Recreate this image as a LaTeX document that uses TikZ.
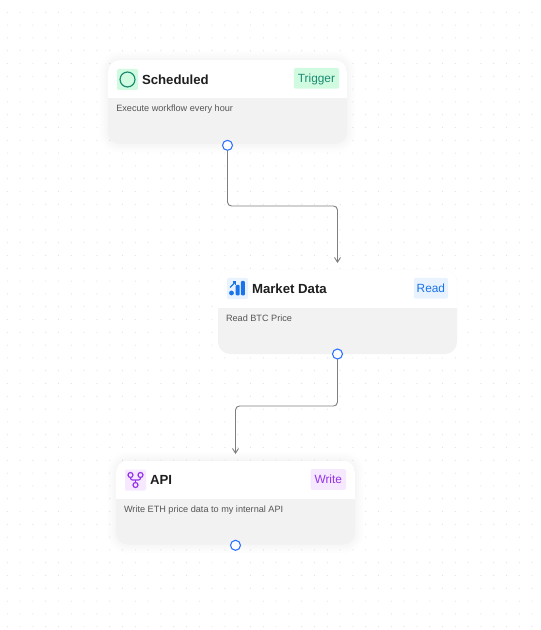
\documentclass[tikz,border=0pt]{standalone}
\usepackage{fontspec}
\setmainfont{Liberation Sans}
\usepackage{tikz}
\usetikzlibrary{arrows.meta,positioning}
\definecolor{cardgray}{HTML}{F2F2F2}
\definecolor{inkdark}{HTML}{1F1F1F}
\definecolor{inksoft}{HTML}{555555}
\definecolor{dotgray}{HTML}{E0E0E0}
\definecolor{wiregray}{HTML}{7F7F7F}
\definecolor{portblue}{HTML}{2970FF}
\definecolor{trigfill}{HTML}{D1FBE0}
\definecolor{triginkc}{HTML}{1A8A72}
\definecolor{readfill}{HTML}{E8F3FF}
\definecolor{readink}{HTML}{1A73E8}
\definecolor{writefill}{HTML}{F6E8FF}
\definecolor{writeink}{HTML}{9333EA}

\begin{document}
\begin{tikzpicture}[
	x=0.75pt,y=-0.75pt,
	card/.style={fill=cardgray,rounded corners=9pt,minimum width=179.25pt,minimum height=63pt,inner sep=0pt,outer sep=0pt,
		path picture={\fill[white,sharp corners] (path picture bounding box.north west) rectangle ([yshift=-28.5pt]path picture bounding box.north east);}},
	lifted/.style={preaction={draw=black,draw opacity=.006,line width=13pt},preaction={draw=black,draw opacity=.007,line width=9pt},preaction={draw=black,draw opacity=.007,line width=6pt},preaction={draw=black,draw opacity=.007,line width=3pt}},
	iconbox/.style={minimum size=15.75pt,inner sep=0pt,outer sep=0pt,rounded corners=1pt},
	tagbox/.style={minimum height=15.5pt,inner xsep=3pt,inner ysep=0pt,outer sep=0pt,rounded corners=1.5pt,text height=6.5pt,text depth=.3pt,font=\fontsize{8.9pt}{10pt}\selectfont},
	title/.style={inner sep=0pt,outer sep=0pt,text=inkdark,font=\fontsize{9.9pt}{12pt}\selectfont\bfseries},
	desc/.style={inner sep=0pt,outer sep=0pt,text=inksoft,text height=5.5pt,text depth=1.5pt,font=\fontsize{6.85pt}{8pt}\selectfont},
	port/.style={circle,draw=portblue,line width=.8pt,fill=white,minimum size=7.5pt,inner sep=0pt,outer sep=0pt},
	wire/.style={-{Straight Barb[length=3.5pt,width=4.5pt]},wiregray,line width=.7pt,rounded corners=3pt}
	]
	\useasboundingbox (0,0) rectangle (541,630);
	% dot grid
	\foreach \i in {0,...,41}
		\foreach \j in {0,...,49}
			\fill[dotgray] ({7.3+12.8*\i},{-0.5+12.8*\j}) circle (0.45pt);

	% cards
	\node[card,lifted] (sched) at (227.5,102) {};
	\node[card] (market) at (337.5,312) {};
	\node[card,lifted] (api) at (235.5,502.5) {};

	\node[iconbox,fill=trigfill] (schedIcon) [below right=6.75pt and 6.75pt of sched.north west] {};
	\node[title] (schedTitle) [right=3pt of schedIcon] {Scheduled};
	\node[tagbox,fill=trigfill,text=triginkc] (schedTag) [below left=6pt and 6pt of sched.north east] {Trigger};
	\node[desc] (schedDesc) [below right=33.2pt and 6.2pt of sched.north west] {Execute workflow every hour};
	\draw[triginkc,line width=.9pt] (schedIcon) circle (5.6pt);

	\node[iconbox,fill=readfill] (marketIcon) [below right=6pt and 6.75pt of market.north west] {};
	\node[title] (marketTitle) [right=3pt of marketIcon] {Market Data};
	\node[tagbox,fill=readfill,text=readink,inner xsep=2.2pt] (marketTag) [below left=6pt and 6.75pt of market.north east] {Read};
	\node[desc] (marketDesc) [below right=33.2pt and 6pt of market.north west] {Read BTC Price};
	\begin{scope}[shift={(marketIcon.center)}]
		\fill[readink] (-6,4.5) circle (2.4);
		\fill[readink,rounded corners=.7pt] (-1.8,-3.5) rectangle (2.2,6.8);
		\fill[readink,rounded corners=.7pt] (3.4,-7.5) rectangle (7.4,6.8);
		\draw[-{Straight Barb[length=1.5pt,width=3pt]},readink,line width=.9pt] (-7.5,-1) -- (-1.5,-7);
	\end{scope}

	\node[iconbox,fill=writefill] (apiIcon) [below right=6.75pt and 6.75pt of api.north west] {};
	\node[title] (apiTitle) [right=3pt of apiIcon] {API};
	\node[tagbox,fill=writefill,text=writeink] (apiTag) [below left=6.5pt and 6.75pt of api.north east] {Write};
	\node[desc] (apiDesc) [below right=33.2pt and 6pt of api.north west] {Write ETH price data to my internal API};
	\begin{scope}[shift={(apiIcon.center)},writeink,line width=.9pt]
		\draw (-5,-5) circle (2.5);
		\draw (5,-5) circle (2.5);
		\draw (0,5) circle (2.5);
		\draw[rounded corners=1.5pt] (-5,-2.5) -- (-5,0) -- (5,0) -- (5,-2.5);
		\draw (0,0) -- (0,2.5);
	\end{scope}

	% ports and wires
	\node[port] (schedOut) at ([yshift=-1pt]sched.south) {};
	\node[port] (marketOut) at (market.south) {};
	\node[port] (apiOut) at ([yshift=-.6pt]api.south) {};
	\coordinate (bendA) at (282,206);
	\coordinate (marketIn) at (337.5,263);
	\coordinate (bendB) at (286,406);
	\coordinate (apiIn) at (235.5,454);
	\draw[wire] (schedOut) -- (schedOut |- bendA) -- (bendA -| marketIn) -- (marketIn);
	\draw[wire] (marketOut) -- (marketOut |- bendB) -- (bendB -| apiIn) -- (apiIn);
\end{tikzpicture}
\end{document}
